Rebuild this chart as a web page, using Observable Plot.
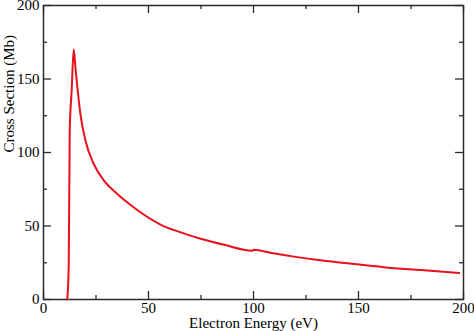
<!DOCTYPE html>
<html>
<head>
<meta charset="utf-8">
<script src="https://cdn.jsdelivr.net/npm/d3@7"></script>
<script src="https://cdn.jsdelivr.net/npm/@observablehq/plot@0.6"></script>
<style>
  html, body { margin: 0; padding: 0; background: #fff; }
</style>
</head>
<body>
<div id="chart"></div>
<script>
const energy = [11.3, 12.0, 12.5, 13.4, 14.4, 15.2, 16.3, 17.6, 20.0, 24.0, 28.7, 35.0, 40.0, 46.0, 55.7, 65.0, 74.8, 86.0, 99.4, 100.2, 108.0, 120.0, 130.0, 145.0, 162.0, 180.0, 198.0];
const cross  = [0,    22,   115,  142,  170,  158,  142,  126,  108,  92,   81,   72,   66,   59.5, 51,   45.8, 41.3, 37.2, 33.2, 33.8,  31.8,  29,    27,    24.6,  22,    20,    18];
const majorTicks = [0, 50, 100, 150, 200];
const minorTicks = [25, 75, 125, 175];
const xTitle = "Electron Energy (eV)";
const yTitle = "Cross Section (Mb)";

const data = energy.map((e, i) => ({energy: e, cross: cross[i]}));
const axisColor = "#2a2a2a";
const font = "Liberation Serif, Times New Roman, serif";

const W = 474, H = 331, mL = 43, mR = 11, mT = 5, mB = 32;
const frameW = W - mL - mR, frameH = H - mT - mB;

function tickLinks(values, len, side) {
  const rows = values.map(v => ({v}));
  const o = {stroke: axisColor, strokeWidth: 1.3};
  if (side === "bottom") return Plot.ruleX(rows, {...o, x: "v", insetTop: frameH - len});
  if (side === "top") return Plot.ruleX(rows, {...o, x: "v", insetBottom: frameH - len});
  if (side === "left") return Plot.ruleY(rows, {...o, y: "v", insetRight: frameW - len});
  return Plot.ruleY(rows, {...o, y: "v", insetLeft: frameW - len});
}

const chart = Plot.plot({
  width: W,
  height: H,
  marginLeft: mL,
  marginRight: mR,
  marginTop: mT,
  marginBottom: mB,
  style: {fontFamily: font, fontSize: "15px", color: "#000", background: "#fff"},
  x: {domain: [0, 200]},
  y: {domain: [0, 200]},
  marks: [
    Plot.axisX(majorTicks, {anchor: "bottom", tickSize: 0, tickPadding: 3, fill: "#000", fontSize: 15, label: null, tickFormat: d => String(d)}),
    Plot.axisY(majorTicks, {anchor: "left", tickSize: 0, tickPadding: 4, fill: "#000", fontSize: 15, label: null, tickFormat: d => String(d)}),
    Plot.frame({stroke: axisColor, strokeWidth: 1.5}),
    tickLinks(majorTicks, 8, "bottom"),
    tickLinks(minorTicks, 4, "bottom"),
    tickLinks(majorTicks, 8, "top"),
    tickLinks(minorTicks, 4, "top"),
    tickLinks(majorTicks, 8, "left"),
    tickLinks(minorTicks, 4, "left"),
    tickLinks(majorTicks, 8, "right"),
    tickLinks(minorTicks, 4, "right"),
    Plot.text([xTitle], {text: d => d, frameAnchor: "bottom", dy: 24, lineAnchor: "middle", fontSize: 15, fill: "#000"}),
    Plot.text([yTitle], {text: d => d, frameAnchor: "left", dx: -34, rotate: -90, lineAnchor: "middle", fontSize: 15, fill: "#000"}),
    Plot.line(data, {x: "energy", y: "cross", stroke: "#e8101a", strokeWidth: 2, curve: "monotone-x"})
  ]
});
document.getElementById("chart").appendChild(chart);
</script>
</body>
</html>
